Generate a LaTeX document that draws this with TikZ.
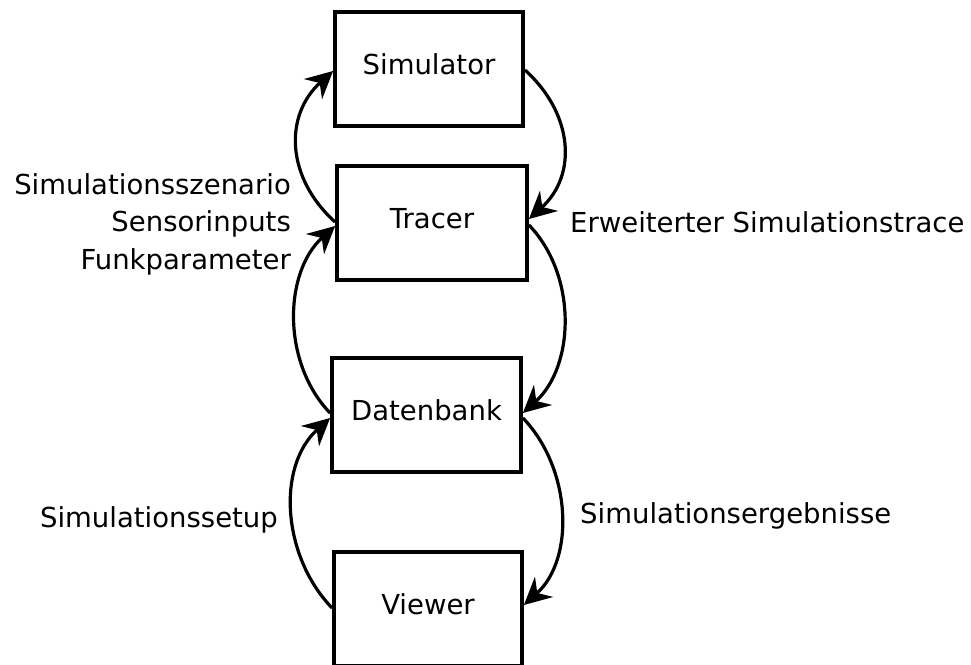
\documentclass[tikz,border=0pt]{standalone}
\usepackage{fontspec}
\setmainfont{DejaVu Sans}
\usetikzlibrary{arrows.meta}
\begin{document}
\begin{tikzpicture}[x=1pt,y=-1pt,
  blk/.style={draw,line width=3.8pt,minimum width=188pt,minimum height=114pt,inner sep=0pt,
    text height=19pt,text depth=9pt,font=\fontsize{27.5}{33}\selectfont},
  lbl/.style={font=\fontsize{27.5}{37.5}\selectfont,inner sep=0pt},
  flow/.style={line width=3.2pt,-{Stealth[length=27pt,width=27pt,inset=9pt]}}]
\useasboundingbox (0,0) rectangle (971,664);
\begin{scope}
\clip (0,0) rectangle (971,664);
\node[blk] (sim) at (429,69) {Simulator};
\node[blk,minimum width=190pt] (trc) at (432,223) {Tracer};
\node[blk,minimum width=189pt] (db) at (426.5,415) {Datenbank};
\node[blk] (vw) at (428,609) {Viewer};
\end{scope}
\draw[flow] ([yshift=1pt]trc.west) to[out=138,in=222,looseness=1.12] ([yshift=-2pt]sim.west);
\draw[flow] ([yshift=-1pt]sim.east) to[out=-42,in=42,looseness=1.12] ([yshift=4pt]trc.east);
\draw[flow] ([yshift=2pt]db.west) to[out=134,in=222,looseness=0.95] ([yshift=-3pt]trc.west);
\draw[flow] ([yshift=-2pt]trc.east) to[out=-46,in=42,looseness=0.95] ([yshift=2pt]db.east);
\draw[flow] ([yshift=-3pt]db.east) to[out=-46,in=42,looseness=0.95] ([yshift=4pt]vw.east);
\draw[flow] ([yshift=1pt]vw.west) to[out=134,in=222,looseness=0.97] ([yshift=-3pt]db.west);
\node[lbl,anchor=east,align=right] (l1) at (291,224) {Simulationsszenario\\Sensorinputs\\Funkparameter};
\node[lbl,anchor=base west] (l2) at (570,232) {Erweiterter Simulationstrace};
\node[lbl,anchor=base east] (l3) at (278,527) {Simulationssetup};
\node[lbl,anchor=base west] (l4) at (580,523) {Simulationsergebnisse};
\end{tikzpicture}
\end{document}
